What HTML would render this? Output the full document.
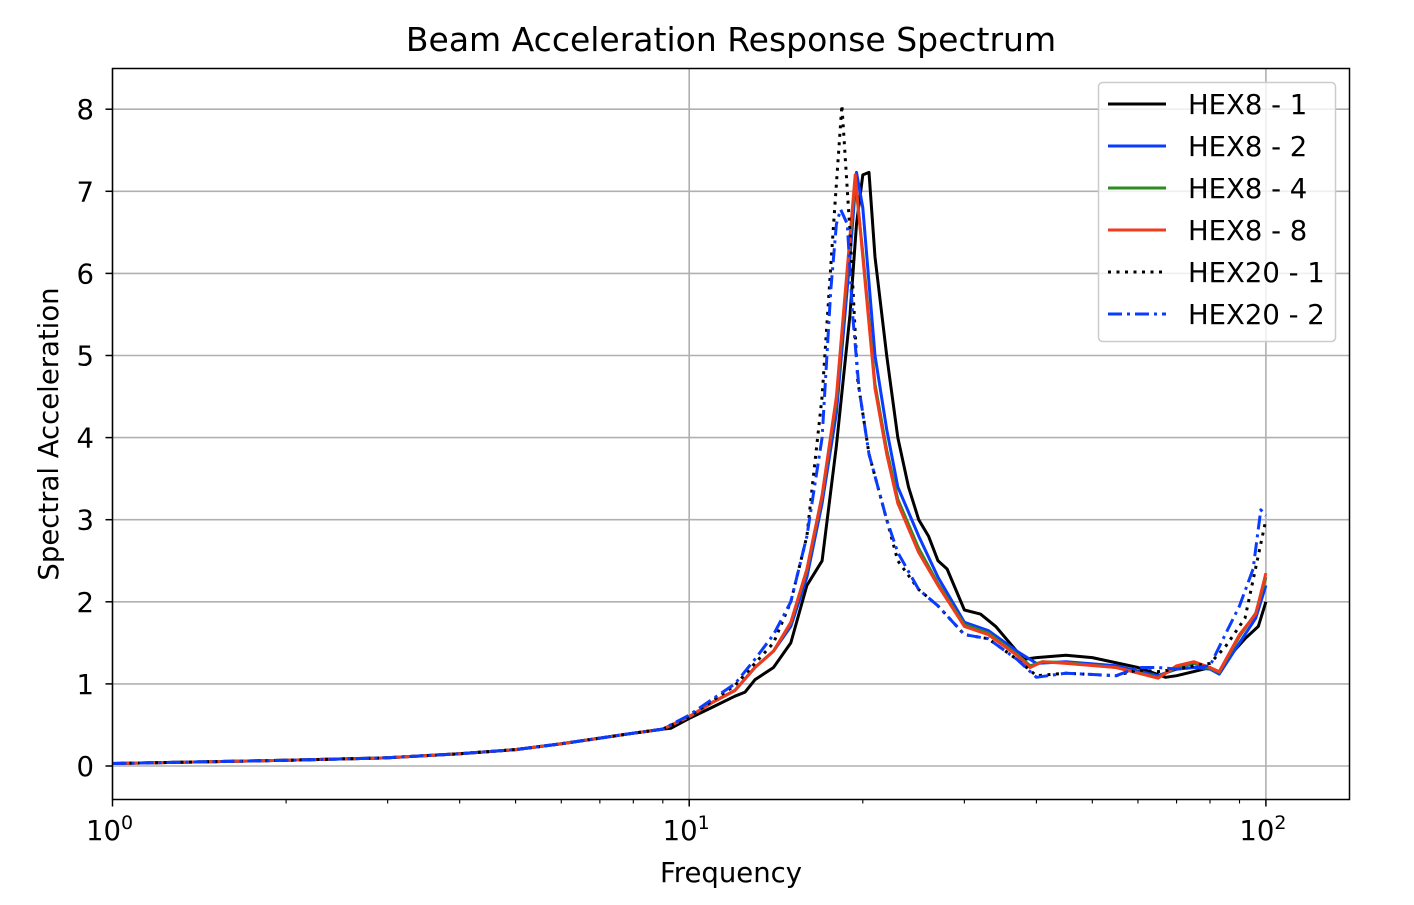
<!DOCTYPE html>
<html><head><meta charset="utf-8"><style>
body{margin:0;background:#fff;}
svg text{font-family:"DejaVu Sans","Liberation Sans",sans-serif;fill:#000;}
</style></head><body>
<svg id="chart" width="1414" height="900" xmlns="http://www.w3.org/2000/svg">
<text x="731" y="51" font-size="33" text-anchor="middle">Beam Acceleration Response Spectrum</text>
<g id="grid"></g>
<g id="series"></g>
<rect x="112.5" y="68.5" width="1237" height="731" fill="none" stroke="#000" stroke-width="1.5"/>
<g id="ticks"></g>
<text x="731" y="882" font-size="27.5" text-anchor="middle">Frequency</text>
<text transform="translate(58,434) rotate(-90)" font-size="27.5" text-anchor="middle">Spectral Acceleration</text>
<g id="legend"></g>
</svg>
<script>
const yTicks=[0,1,2,3,4,5,6,7,8];
const xMajor=[1,10,100];
const seriesNames=["HEX8 - 1","HEX8 - 2","HEX8 - 4","HEX8 - 8","HEX20 - 1","HEX20 - 2"];
const lowF=[1,2,3,4,5,6,7,8,9];
const lowV=[0.03,0.07,0.1,0.15,0.2,0.27,0.34,0.4,0.45];
const f1=[9.3,10,11,12,12.5,13,14,15,16,17,18,19,19.5,20,20.5,21,22,23,24,25,26,27,28,30,32,34,38,40,45,50,60,67,70,75,80,83,88,92,97,100];
const v1=[0.46,0.58,0.72,0.85,0.9,1.05,1.2,1.5,2.2,2.5,3.9,5.5,6.6,7.2,7.23,6.2,5.0,4.0,3.4,3.0,2.8,2.5,2.4,1.9,1.85,1.7,1.3,1.32,1.35,1.32,1.2,1.08,1.1,1.15,1.2,1.12,1.4,1.55,1.7,2.0];
const f2=[10,11,12,13,14,15,16,17,18,19,19.5,20,21,22,23,25,27,30,33,37,40,45,55,65,70,75,80,83,90,96,100];
const v2=[0.6,0.78,0.92,1.2,1.4,1.7,2.3,3.2,4.3,6.2,7.23,6.8,5.0,4.1,3.4,2.8,2.3,1.75,1.65,1.4,1.25,1.27,1.22,1.1,1.18,1.2,1.18,1.12,1.5,1.8,2.2];
const f8=[10,11,12,13,14,15,16,17,18,19.4,20,21,22,23,25,27,30,33,37,39,41,45,55,65,70,75,80,83,90,96,100];
const v8=[0.6,0.78,0.92,1.2,1.4,1.75,2.4,3.3,4.5,7.2,6.2,4.6,3.8,3.2,2.6,2.2,1.7,1.6,1.35,1.2,1.27,1.25,1.2,1.07,1.22,1.27,1.2,1.15,1.6,1.85,2.35];
const v4=[0.6,0.78,0.92,1.2,1.4,1.74,2.38,3.28,4.45,7.15,6.25,4.65,3.85,3.25,2.65,2.22,1.72,1.62,1.36,1.22,1.27,1.26,1.2,1.08,1.2,1.25,1.19,1.14,1.58,1.86,2.3];
const f20a=[10,11,12,13,14,15,16,17,17.8,18.4,19,19.6,20.5,22,23,25,27,30,33,37,40,45,55,60,65,70,75,80,85,92,100];
const v20a=[0.6,0.8,0.98,1.25,1.5,2.0,2.8,4.5,6.6,8.05,6.5,4.7,3.8,3.0,2.5,2.15,1.95,1.6,1.55,1.3,1.1,1.13,1.1,1.17,1.15,1.18,1.22,1.25,1.45,1.8,3.0];
const f20b=[10,11,12,13,14,15,16,17,17.6,18,18.3,18.8,19.2,19.7,20.5,22,23,25,27,30,33,37,40,45,55,60,65,70,75,80,85,90,95,98,100];
const v20b=[0.62,0.82,1.0,1.3,1.6,2.0,2.8,4.0,5.8,6.6,6.78,6.6,5.5,4.6,3.8,3.0,2.6,2.15,1.95,1.6,1.55,1.3,1.08,1.13,1.1,1.2,1.2,1.18,1.2,1.22,1.6,1.95,2.4,3.12,3.05];

const NS="http://www.w3.org/2000/svg";
const X0=112.5,DEC=576.7,Y0=766,YU=82.1;
const xs=f=>X0+Math.log10(f)*DEC;
const ys=v=>Y0-v*YU;
function mk(tag,attrs,parent){const e=document.createElementNS(NS,tag);for(const k in attrs)e.setAttribute(k,attrs[k]);parent.appendChild(e);return e;}
const grid=document.getElementById('grid'),ticks=document.getElementById('ticks'),ser=document.getElementById('series'),leg=document.getElementById('legend');
yTicks.forEach(t=>{
  const g=mk('line',{x1:112.5,x2:1349.5,y1:ys(t),y2:ys(t),stroke:'#b0b0b0','stroke-width':1.6},grid);
  
  
  const tk=mk('line',{x1:105.5,x2:112.5,y1:ys(t),y2:ys(t),stroke:'#000','stroke-width':1.5},ticks);
  
  
  const tx=mk('text',{x:94,y:ys(t)+10,'font-size':27.5,'text-anchor':'end'},ticks);
  tx.textContent=t;
  
  
});
xMajor.forEach((f,i)=>{
  const g=mk('line',{x1:xs(f),x2:xs(f),y1:68.5,y2:799.5,stroke:'#b0b0b0','stroke-width':1.6},grid);
  
  
  const tk=mk('line',{x1:xs(f),x2:xs(f),y1:799.5,y2:806.5,stroke:'#000','stroke-width':1.5},ticks);
  
  
  const tx=mk('text',{x:xs(f)-3,y:840,'font-size':27.5,'text-anchor':'middle'},ticks);
  tx.textContent='10';
  const sp=mk('tspan',{dy:-11,'font-size':19},tx);sp.textContent=i;
  
  
});
for(let d=0;d<3;d++)for(let m=2;m<=9;m++){const f=m*Math.pow(10,d);if(xs(f)>1349)break;
  const tk=mk('line',{x1:xs(f),x2:xs(f),y1:799.5,y2:803.5,stroke:'#000','stroke-width':1.1},ticks);
  
  }
const styles=[
 {c:'#000000',d:'',f:f1,v:v1},
 {c:'#0a3cff',d:'',f:f2,v:v2},
 {c:'#2e8b22',d:'',f:f8,v:v4},
 {c:'#f03c1e',d:'',f:f8,v:v8},
 {c:'#000000',d:'3,5.5',f:f20a,v:v20a},
 {c:'#0a3cff',d:'14,5,3,5',f:f20b,v:v20b}];
[0,1,2,3,4,5].forEach(i=>{const s=styles[i];
  const F=lowF.concat(s.f.filter(f=>f>9)),V=lowV.concat(s.v.filter((v,k)=>s.f[k]>9));
  const d=F.map((f,k)=>(k?'L':'M')+xs(f).toFixed(1)+','+ys(V[k]).toFixed(1)).join('');
  const p=mk('path',{d:d,fill:'none',stroke:s.c,'stroke-width':3,'stroke-linejoin':'round'},ser);
  if(s.d)p.setAttribute('stroke-dasharray',s.d);
  
  
});
const lb=mk('rect',{x:1098.5,y:82.5,width:237,height:259,rx:4,fill:'#fff','fill-opacity':0.8,stroke:'#ccc','stroke-width':1.5},leg);


seriesNames.forEach((n,i)=>{const y=104+i*42;const s=styles[i];
  const l=mk('line',{x1:1108,x2:1166,y1:y,y2:y,stroke:s.c,'stroke-width':3},leg);
  if(s.d)l.setAttribute('stroke-dasharray',s.d);
  
  
  const t=mk('text',{x:1188,y:y+10,'font-size':27.5},leg);t.textContent=n;
  
  
});
</script>
</body></html>
